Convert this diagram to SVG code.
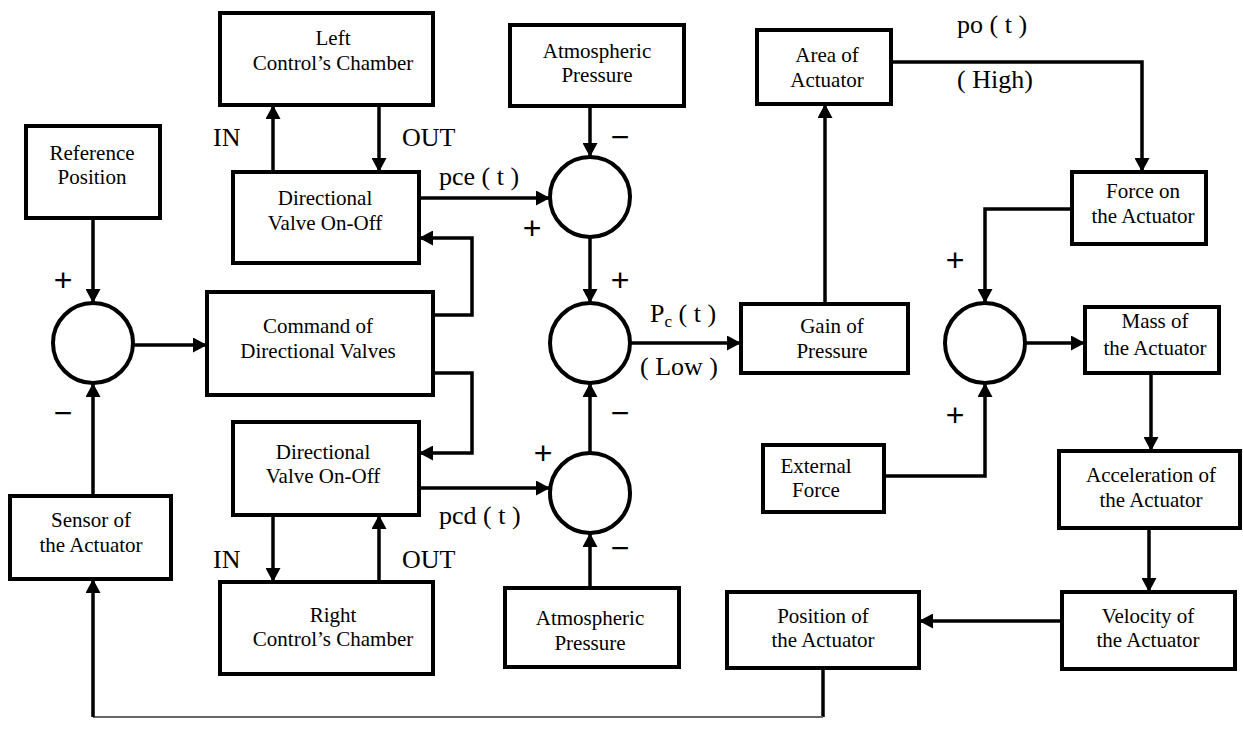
<svg xmlns="http://www.w3.org/2000/svg" width="1243" height="738" viewBox="0 0 1243 738">
<style>
.box{fill:#fff;stroke:#000;stroke-width:4}
.sum{fill:#fff;stroke:#000;stroke-width:4}
.t{font-family:"Liberation Serif","Times New Roman",serif;font-size:21px;text-anchor:middle;fill:#000}
.lbl{font-family:"Liberation Serif","Times New Roman",serif;font-size:26px;fill:#000}
.sg{font-family:"Liberation Sans",Arial,sans-serif;font-size:32px;text-anchor:middle;fill:#000}
.c{fill:none;stroke:#000;stroke-width:3.5}
.ca{fill:none;stroke:#000;stroke-width:3.5;marker-end:url(#ah)}
.thin{fill:none;stroke:#666;stroke-width:2}
</style>
<defs>
<marker id="ah" markerUnits="userSpaceOnUse" markerWidth="14" markerHeight="15" viewBox="0 0 14 15" refX="14" refY="7.5" orient="auto">
<path d="M0,0 L14,7.5 L0,15 z" fill="#000"/>
</marker>
</defs>
<rect width="1243" height="738" fill="#fff"/>

<g id="connectors">
<path class="ca" d="M93,218 V303"/>
<path class="ca" d="M133,345 H207"/>
<path class="ca" d="M273,172 V105"/>
<path class="ca" d="M379,105 V172"/>
<path class="ca" d="M433,315 H472 V238 H419"/>
<path class="ca" d="M433,373 H472 V453 H419"/>
<path class="ca" d="M419,198 H550"/>
<path class="ca" d="M590,106 V157"/>
<path class="ca" d="M590,237 V303"/>
<path class="ca" d="M419,488 H550"/>
<path class="ca" d="M590,588 V533"/>
<path class="ca" d="M590,453 V383"/>
<path class="ca" d="M630,343 H741"/>
<path class="ca" d="M825,304 V104"/>
<path class="ca" d="M891,62 H1142 V172"/>
<path class="ca" d="M1072,209 H985 V303"/>
<path class="ca" d="M884,476 H985 V383"/>
<path class="ca" d="M1025,343 H1085"/>
<path class="ca" d="M1151,373 V451"/>
<path class="ca" d="M1149,528 V592"/>
<path class="ca" d="M1062,621 H919"/>
<path class="c" d="M823,668 V717"/>
<path class="thin" d="M823,717 H93"/>
<path class="ca" d="M93,717 V579"/>
<path class="ca" d="M273,515 V582"/>
<path class="ca" d="M379,582 V515"/>
<path class="ca" d="M93,496 V383"/>
</g>

<g id="left-chamber"><rect class="box" x="220" y="13" width="213" height="92"/><text class="t" x="333" y="45">Left</text><text class="t" x="333" y="70">Control’s Chamber</text></g>
<g id="reference"><rect class="box" x="26" y="126" width="134" height="92"/><text class="t" x="92" y="160">Reference</text><text class="t" x="92" y="184">Position</text></g>
<g id="valve-top"><rect class="box" x="233" y="172" width="186" height="91"/><text class="t" x="325" y="205">Directional</text><text class="t" x="325" y="230">Valve On-Off</text></g>
<g id="command"><rect class="box" x="207" y="292" width="226" height="103"/><text class="t" x="318" y="333">Command of</text><text class="t" x="318" y="358">Directional Valves</text></g>
<g id="valve-bottom"><rect class="box" x="233" y="422" width="186" height="93"/><text class="t" x="323" y="459">Directional</text><text class="t" x="323" y="483">Valve On-Off</text></g>
<g id="right-chamber"><rect class="box" x="220" y="582" width="213" height="92"/><text class="t" x="333" y="622">Right</text><text class="t" x="333" y="646">Control’s Chamber</text></g>
<g id="sensor"><rect class="box" x="10" y="496" width="161" height="83"/><text class="t" x="91" y="527">Sensor of</text><text class="t" x="91" y="552">the Actuator</text></g>
<g id="atm-top"><rect class="box" x="510" y="25" width="174" height="81"/><text class="t" x="597" y="58">Atmospheric</text><text class="t" x="597" y="82">Pressure</text></g>
<g id="atm-bottom"><rect class="box" x="505" y="588" width="174" height="79"/><text class="t" x="590" y="625">Atmospheric</text><text class="t" x="590" y="650">Pressure</text></g>
<g id="area"><rect class="box" x="757" y="30" width="134" height="74"/><text class="t" x="827" y="62">Area of</text><text class="t" x="827" y="87">Actuator</text></g>
<g id="gain"><rect class="box" x="741" y="304" width="167" height="69"/><text class="t" x="832" y="333">Gain of</text><text class="t" x="832" y="358">Pressure</text></g>
<g id="force"><rect class="box" x="1072" y="172" width="134" height="72"/><text class="t" x="1143" y="198">Force on</text><text class="t" x="1143" y="223">the Actuator</text></g>
<g id="mass"><rect class="box" x="1085" y="307" width="134" height="66"/><text class="t" x="1155" y="328">Mass of</text><text class="t" x="1155" y="355">the Actuator</text></g>
<g id="external"><rect class="box" x="763" y="445" width="121" height="67"/><text class="t" x="816" y="473">External</text><text class="t" x="816" y="497">Force</text></g>
<g id="acceleration"><rect class="box" x="1059" y="451" width="181" height="77"/><text class="t" x="1151" y="482">Acceleration of</text><text class="t" x="1151" y="507">the Actuator</text></g>
<g id="velocity"><rect class="box" x="1062" y="592" width="173" height="77"/><text class="t" x="1148" y="623">Velocity of</text><text class="t" x="1148" y="647">the Actuator</text></g>
<g id="position"><rect class="box" x="727" y="592" width="192" height="76"/><text class="t" x="823" y="623">Position of</text><text class="t" x="823" y="647">the Actuator</text></g>

<g id="sum1"><circle class="sum" cx="93" cy="343" r="40"/></g>
<g id="sum2"><circle class="sum" cx="590" cy="197" r="40"/></g>
<g id="sum3"><circle class="sum" cx="590" cy="343" r="40"/></g>
<g id="sum4"><circle class="sum" cx="590" cy="493" r="40"/></g>
<g id="sum5"><circle class="sum" cx="985" cy="343" r="40"/></g>

<g id="labels">
<text class="lbl" x="213" y="146">IN</text>
<text class="lbl" x="402" y="146">OUT</text>
<text class="lbl" x="213" y="568">IN</text>
<text class="lbl" x="402" y="568">OUT</text>
<text class="lbl" x="439" y="185">pce ( t )</text>
<text class="lbl" x="439" y="524">pcd ( t )</text>
<text class="lbl" x="650" y="322">P<tspan font-size="17" dy="5">c</tspan><tspan dy="-5"> ( t )</tspan></text>
<text class="lbl" x="640" y="375">( Low )</text>
<text class="lbl" x="957" y="33">po ( t )</text>
<text class="lbl" x="957" y="88">( High)</text>
</g>

<g id="signs">
<text class="sg" x="63" y="291">+</text>
<text class="sg" x="63" y="424">−</text>
<text class="sg" x="620" y="148">−</text>
<text class="sg" x="532" y="239">+</text>
<text class="sg" x="620" y="291">+</text>
<text class="sg" x="620" y="424">−</text>
<text class="sg" x="543" y="464">+</text>
<text class="sg" x="620" y="559">−</text>
<text class="sg" x="955" y="271">+</text>
<text class="sg" x="955" y="426">+</text>
</g>
</svg>
